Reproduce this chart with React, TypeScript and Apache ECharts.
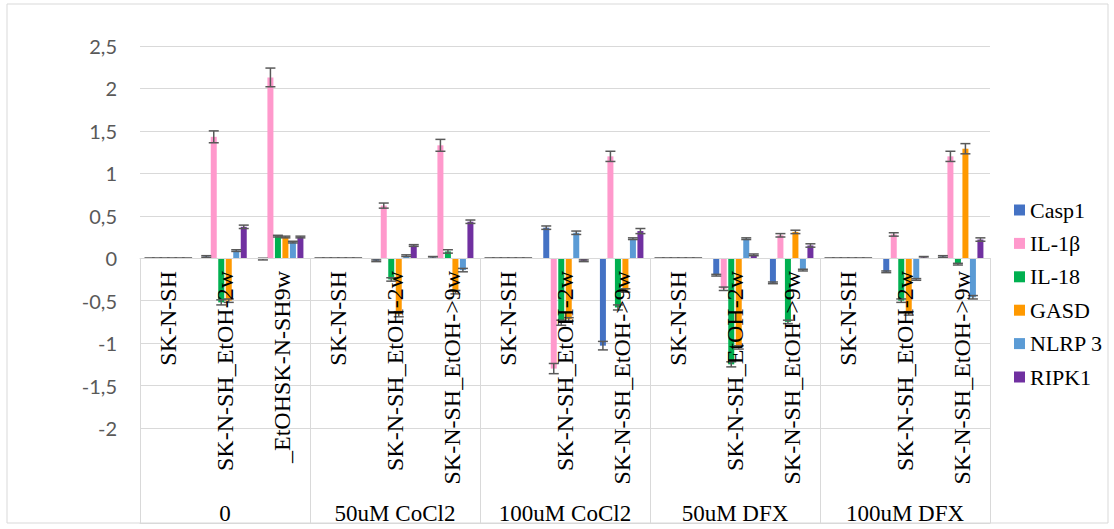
import React, { useEffect, useRef } from "react";
import * as echarts from "echarts";

const groups = ["0", "50uM CoCl2", "100uM CoCl2", "50uM DFX", "100uM DFX"];
const subLabels = [
  "SK-N-SH", "SK-N-SH_EtOH-2w", "_EtOHSK-N-SH9w",
  "SK-N-SH", "SK-N-SH_EtOH-2w", "SK-N-SH_EtOH->9w",
  "SK-N-SH", "SK-N-SH_EtOH-2w", "SK-N-SH_EtOH->9w",
  "SK-N-SH", "SK-N-SH_EtOH-2w", "SK-N-SH_EtOH->9w",
  "SK-N-SH", "SK-N-SH_EtOH-2w", "SK-N-SH_EtOH->9w",
];
const seriesNames = ["Casp1", "IL-1β", "IL-18", "GASD", "NLRP 3", "RIPK1"];
const colors = ["#4472C4", "#FF99CC", "#00B050", "#FF9900", "#5B9BD5", "#7030A0"];
const yTicks = { min: -2, max: 2.5, interval: 0.5 };

const casp1 = [0, 0.02, -0.01, 0, -0.03, 0.01, 0, 0.36, -1.03, 0, -0.2, -0.29, 0, -0.16, 0.02];
const il1b = [0, 1.43, 2.13, 0, 0.62, 1.33, 0, -1.3, 1.2, 0, -0.36, 0.27, 0, 0.28, 1.2];
const il18 = [0, -0.52, 0.26, 0, -0.25, 0.08, 0, -0.76, -0.58, 0, -1.25, -0.75, 0, -0.5, -0.07];
const gasd = [0, -0.5, 0.25, 0, -0.66, -0.4, 0, -0.72, -0.38, 0, -1.05, 0.31, 0, -0.65, 1.29];
const nlrp3 = [0, 0.09, 0.19, 0, 0.03, -0.14, 0, 0.3, 0.23, 0, 0.23, -0.14, 0, -0.25, -0.46];
const ripk1 = [0, 0.37, 0.25, 0, 0.15, 0.43, 0, -0.03, 0.32, 0, 0.04, 0.15, 0, 0.01, 0.22];

const casp1Err = [0, 0.01, 0.01, 0, 0.01, 0.01, 0, 0.02, 0.05, 0, 0.01, 0.01, 0, 0.01, 0.01];
const il1bErr = [0, 0.07, 0.11, 0, 0.03, 0.07, 0, 0.06, 0.06, 0, 0.02, 0.02, 0, 0.02, 0.06];
const il18Err = [0, 0.03, 0.01, 0, 0.02, 0.02, 0, 0.03, 0.03, 0, 0.03, 0.02, 0, 0.02, 0.01];
const gasdErr = [0, 0.02, 0.01, 0, 0.03, 0.02, 0, 0.02, 0.02, 0, 0.02, 0.02, 0, 0.02, 0.06];
const nlrp3Err = [0, 0.01, 0.01, 0, 0.01, 0.02, 0, 0.02, 0.01, 0, 0.01, 0.01, 0, 0.01, 0.02];
const ripk1Err = [0, 0.02, 0.01, 0, 0.01, 0.02, 0, 0.01, 0.03, 0, 0.01, 0.02, 0, 0.01, 0.02];

const values = [casp1, il1b, il18, gasd, nlrp3, ripk1];
const errors = [casp1Err, il1bErr, il18Err, gasdErr, nlrp3Err, ripk1Err];

const BAR_W = 6;
const BAR_STEP = 7.5;

export default function App() {
  const ref = useRef<HTMLDivElement>(null);
  useEffect(() => {
    document.body.style.margin = "0";
    if (!ref.current) return;
    const chart = echarts.init(ref.current, undefined, { renderer: "svg" });

    const errData: number[][] = [];
    values.forEach((arr, s) => {
      arr.forEach((v, c) => errData.push([c, s, v, errors[s][c]]));
    });

    const serif = "Liberation Serif";

    chart.setOption({
      animation: false,
      backgroundColor: "#ffffff",
      graphic: [
        {
          type: "rect",
          shape: { x: 7, y: 4, width: 1101, height: 519 },
          style: { fill: "none", stroke: "#d9d9d9", lineWidth: 1 },
          silent: true,
          z: -1,
        },
      ],
      grid: {
        left: 140,
        right: 124,
        top: 46,
        bottom: 101,
        containLabel: false,
        outerBoundsMode: "none",
      },
      legend: {
        orient: "vertical",
        left: 1009,
        top: 194,
        icon: "rect",
        itemWidth: 11,
        itemHeight: 11,
        itemGap: 11.4,
        data: seriesNames,
        textStyle: { fontFamily: serif, fontSize: 22, color: "#000", lineHeight: 22 },
      },
      xAxis: [
        {
          type: "category",
          data: subLabels.map((_, i) => String(i)),
          position: "bottom",
          offset: -170,
          z: 5,
          axisLine: { show: true, onZero: false, lineStyle: { color: "#d9d9d9", width: 1 } },
          axisTick: { show: false },
          splitLine: { show: false },
          axisLabel: {
            interval: 0,
            rotate: 90,
            margin: 13,
            hideOverlap: false,
            fontFamily: serif,
            fontSize: 24,
            color: "#000",
            formatter: (_v: string, i: number) => subLabels[i],
          },
        },
        {
          type: "category",
          data: groups,
          position: "bottom",
          offset: 95,
          axisLine: { show: true, onZero: false, lineStyle: { color: "#d9d9d9", width: 1 } },
          axisTick: { show: true, inside: true, interval: 0, length: 265, lineStyle: { color: "#d9d9d9", width: 1 } },
          splitLine: { show: false },
          axisLabel: {
            inside: true,
            interval: 0,
            hideOverlap: false,
            margin: -2,
            fontFamily: serif,
            fontSize: 23,
            fontWeight: "normal",
            color: "#000",
          },
        },
      ],
      yAxis: {
        type: "value",
        min: yTicks.min,
        max: yTicks.max,
        interval: yTicks.interval,
        axisLine: { show: false },
        axisTick: { show: false },
        splitLine: { lineStyle: { color: "#d9d9d9", width: 1 } },
        axisLabel: {
          margin: 23,
          fontFamily: "Lato",
          fontSize: 20,
          color: "#595959",
          formatter: (v: number) => String(v).replace(".", ","),
        },
      },
      series: [
        ...seriesNames.map((name, s) => ({
          type: "bar",
          name,
          data: values[s],
          barWidth: BAR_W,
          barGap: "25%",
          itemStyle: { color: colors[s] },
          z: 2,
        })),
        {
          type: "custom",
          name: "err",
          data: errData,
          encode: { x: 0, y: 2 },
          z: 3,
          silent: true,
          renderItem: (_params: any, api: any) => {
            const c = api.value(0);
            const s = api.value(1);
            const v = api.value(2);
            const e = api.value(3);
            const base = api.coord([c, v]);
            const x = base[0] + (s - 2.5) * BAR_STEP;
            const yHi = api.coord([c, v + e])[1];
            const yLo = api.coord([c, v - e])[1];
            const hw = 5;
            const style = { stroke: "#595959", lineWidth: 1.5 };
            return {
              type: "group",
              children: [
                { type: "line", shape: { x1: x, y1: yHi, x2: x, y2: yLo }, style },
                { type: "line", shape: { x1: x - hw, y1: yHi, x2: x + hw, y2: yHi }, style },
                { type: "line", shape: { x1: x - hw, y1: yLo, x2: x + hw, y2: yLo }, style },
              ],
            };
          },
        },
      ],
    });
    return () => chart.dispose();
  }, []);
  return <div ref={ref} style={{ width: 1114, height: 529 }} />;
}
